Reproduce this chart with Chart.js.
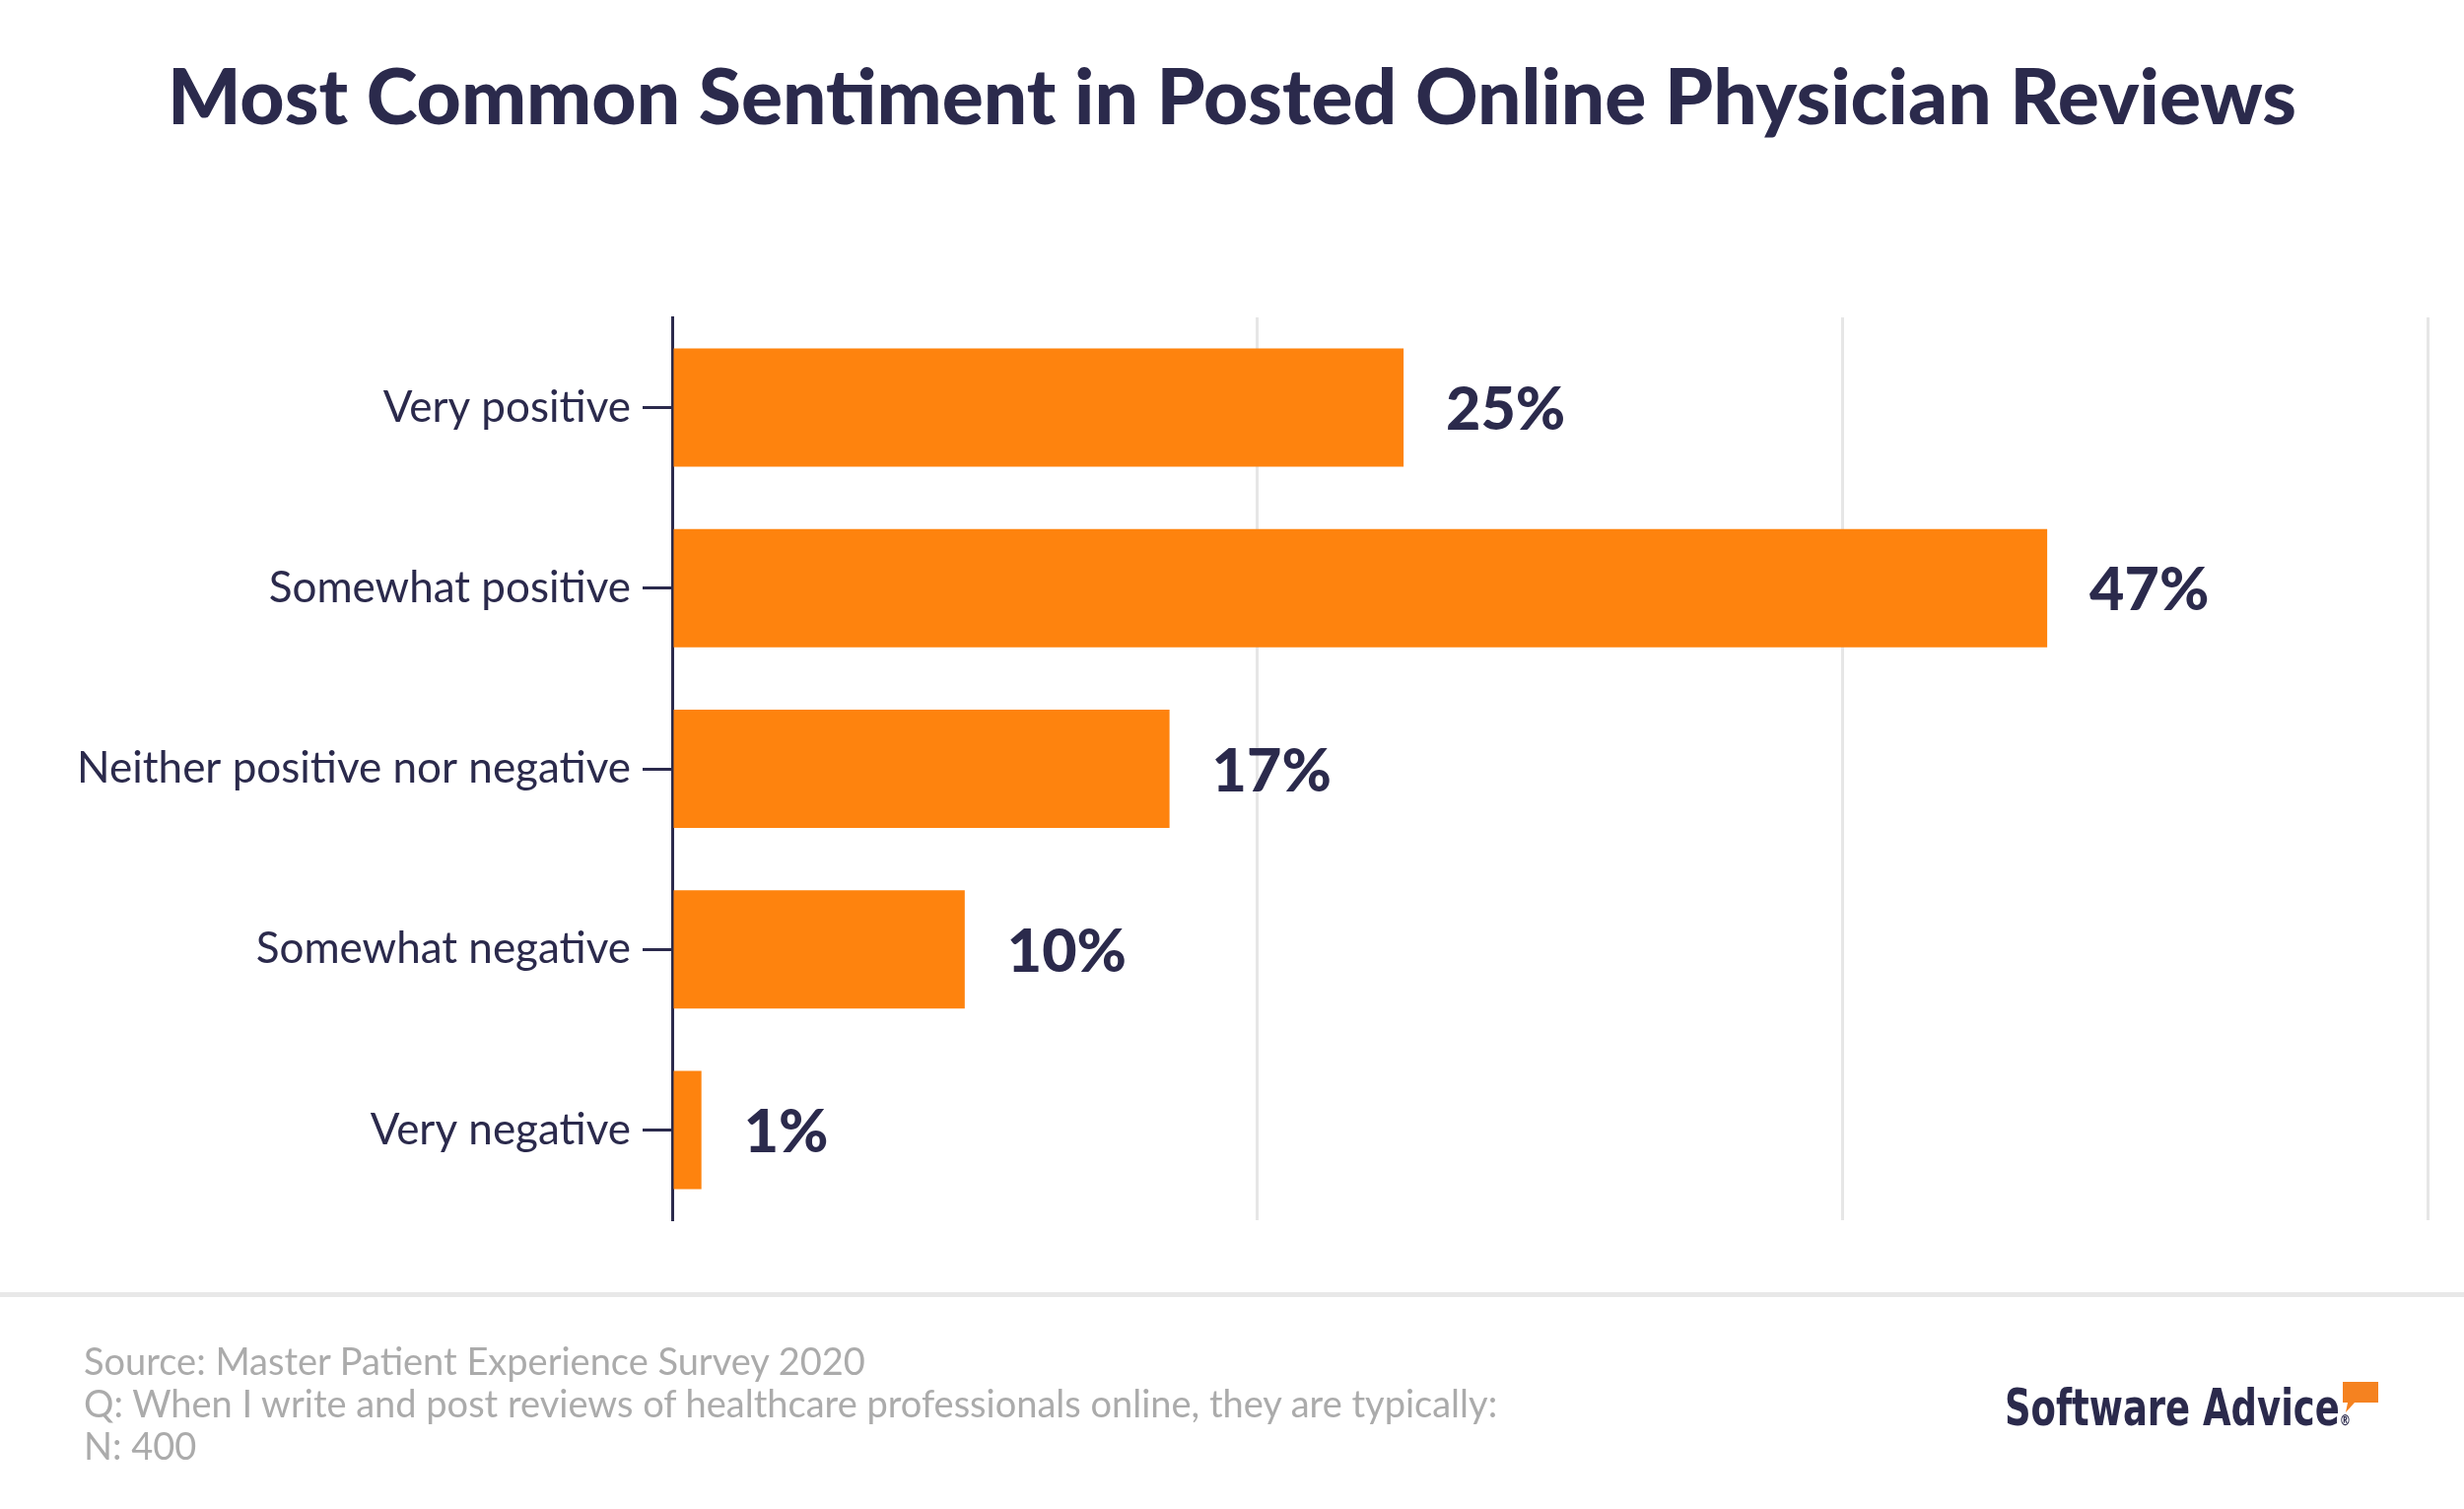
<!DOCTYPE html>
<html lang="en">
<head>
<meta charset="UTF-8">
<title>Most Common Sentiment in Posted Online Physician Reviews</title>
<script src="https://cdn.jsdelivr.net/npm/chart.js@4.4.1/dist/chart.umd.min.js"></script>
<style>
  body { margin: 0; background: #fff; }
  #page { position: relative; width: 2500px; height: 1531px; overflow: hidden; font-family: Lato, sans-serif; }
  #title { position: absolute; top: 49px; left: 0; width: 100%; text-align: center; font-weight: 900; font-size: 78.5px; color: #2b2a4c; }
  #chart { position: absolute; left: 0; top: 0; }
  #rule { position: absolute; left: 0; top: 1311px; width: 100%; height: 5px; background: #e8e8e8; }
  #notes { position: absolute; left: 85px; top: 1359px; font-size: 38px; line-height: 43px; color: #ababab; }
  #logo { position: absolute; left: 2034px; top: 1398px; font-family: "Liberation Sans Narrow", "DejaVu Sans Condensed", sans-serif; font-weight: 700; font-size: 52px; color: #2b2a4c; white-space: nowrap; transform: scaleX(0.79); transform-origin: left top; }
  #logo sup { font-size: 16px; vertical-align: baseline; }
  #bubble { position: absolute; left: 2374px; top: 1400px; }
</style>
</head>
<body>
<div id="page">
  <div id="title">Most Common Sentiment in Posted Online Physician Reviews</div>
  <canvas id="chart" width="2500" height="1531"></canvas>
  <div id="rule"></div>
  <div id="notes">
    Source: Master Patient Experience Survey 2020<br>
    Q: When I write and post reviews of healthcare professionals online, they are typically:<br>
    N: 400
  </div>
  <div id="logo">Software Advice<sup>®</sup></div>
  <svg id="bubble" width="42" height="38" viewBox="0 0 42 38">
    <path d="M3 2 H39 V23 H15 L6 33 L8 23 H3 Z" fill="#f58220"/>
  </svg>
</div>

<script>
  // 데이터
  const categories = ['Very positive', 'Somewhat positive', 'Neither positive nor negative', 'Somewhat negative', 'Very negative'];
  const shares = [25, 47, 17, 10, 1];
  const xTicks = [0, 20, 40, 60];

  const navy = '#2b2a4c';

  // 막대 끝에 퍼센트 표시
  const valueLabels = {
    id: 'valueLabels',
    afterDatasetsDraw(chart) {
      const ctx = chart.ctx;
      const meta = chart.getDatasetMeta(0);
      ctx.save();
      ctx.font = '900 61px Lato';
      ctx.fillStyle = navy;
      ctx.textBaseline = 'middle';
      meta.data.forEach((bar, i) => {
        ctx.fillText(shares[i] + '%', bar.x + 43, bar.y + 3);
      });
      ctx.restore();
    }
  };

  new Chart(document.getElementById('chart'), {
    type: 'bar',
    data: {
      labels: categories,
      datasets: [{
        data: shares,
        backgroundColor: '#fe830e',
        borderWidth: 0,
        categoryPercentage: 1,
        barPercentage: 0.655,
      }],
    },
    options: {
      indexAxis: 'y',
      responsive: false,
      devicePixelRatio: 1,
      animation: false,
      layout: { padding: { top: 322, bottom: 293, left: 0, right: 37 } },
      plugins: {
        legend: { display: false },
        tooltip: { enabled: false },
      },
      scales: {
        x: {
          min: xTicks[0],
          max: xTicks[xTicks.length - 1],
          afterBuildTicks: (scale) => { scale.ticks = xTicks.map((v) => ({ value: v })); },
          afterFit: (scale) => { scale.height = 0; },
          ticks: { display: false },
          border: { display: false },
          grid: {
            color: (c) => (c.tick && c.tick.value === 0 ? 'rgba(0,0,0,0)' : '#e6e6e6'),
            lineWidth: 3,
            drawTicks: false,
          },
        },
        y: {
          afterFit: (scale) => { scale.width = 682; },
          border: { display: true, color: navy, width: 3 },
          grid: {
            offset: false,
            drawOnChartArea: false,
            drawTicks: true,
            tickLength: 30,
            tickColor: navy,
            tickWidth: 3,
          },
          ticks: {
            color: navy,
            padding: 12,
            font: { family: 'Lato', size: 44 },
          },
        },
      },
    },
    plugins: [valueLabels],
  });
</script>
</body>
</html>
